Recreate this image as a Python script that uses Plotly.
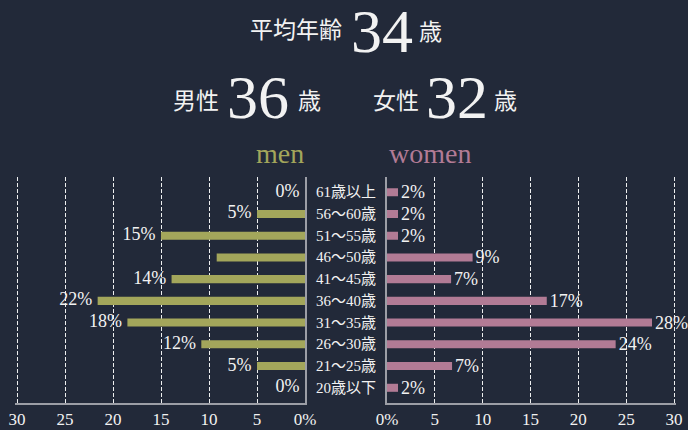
import plotly.graph_objects as go

# ---------------- data ----------------
categories = ["61歳以上", "56〜60歳", "51〜55歳", "46〜50歳", "41〜45歳",
              "36〜40歳", "31〜35歳", "26〜30歳", "21〜25歳", "20歳以下"]
men_values = [0, 5, 15, 9.2, 13.9, 21.6, 18.5, 10.8, 5, 0]
men_labels = ["0%", "5%", "15%", "", "14%", "22%", "18%", "12%", "5%", "0%"]
women_values = [1.15, 1.15, 1.15, 8.95, 6.7, 16.7, 27.7, 23.9, 6.8, 1.15]
women_labels = ["2%", "2%", "2%", "9%", "7%", "17%", "28%", "24%", "7%", "2%"]

men_tickvals = [30, 25, 20, 15, 10, 5, 0]
men_ticktext = ["30", "25", "20", "15", "10", "5", "0%"]
women_tickvals = [0, 5, 10, 15, 20, 25, 30]
women_ticktext = ["0%", "5", "10", "15", "20", "25", "30"]

avg_label, avg_age = "平均年齢", "34"
men_title, men_age = "男性", "36"
women_title, women_age = "女性", "32"
age_unit = "歳"
men_name, women_name = "men", "women"

# ---------------- style ----------------
W, H = 688, 430
BG = "#222939"
MEN_C = "#a3a65b"
WOMEN_C = "#b27b95"
AXIS_C = "#9c9ea6"
TXT = "#f2f2f2"
SERIF = "Liberation Serif, Noto Sans CJK JP, serif"


def px(x):
    return x / W


def py(y):
    return 1 - y / H


fig = go.Figure()
fig.add_trace(go.Bar(
    y=categories, x=men_values, orientation="h",
    xaxis="x", yaxis="y", marker=dict(color=MEN_C, line=dict(width=0)),
    width=0.37, showlegend=False, hoverinfo="skip",
))
fig.add_trace(go.Scatter(
    y=categories, x=men_values, mode="markers+text", text=men_labels,
    textposition="middle left", xaxis="x", yaxis="y",
    marker=dict(size=7, color="rgba(0,0,0,0)"),
    textfont=dict(family=SERIF, size=18, color=TXT),
    cliponaxis=False, showlegend=False, hoverinfo="skip",
))
fig.add_trace(go.Bar(
    y=categories, x=women_values, orientation="h",
    xaxis="x2", yaxis="y2", marker=dict(color=WOMEN_C, line=dict(width=0)),
    width=0.37, text=women_labels, textposition="outside",
    textfont=dict(family=SERIF, size=18, color=TXT),
    constraintext="none", cliponaxis=False, showlegend=False, hoverinfo="skip",
))

xcommon = dict(
    showgrid=True, gridcolor="rgba(255,255,255,0.92)", griddash="4px,2px", gridwidth=1,
    zeroline=False, showline=True, linecolor=AXIS_C, linewidth=2,
    ticks="", tickfont=dict(family=SERIF, size=17, color=TXT),
    fixedrange=True, automargin=False,
)
ycommon = dict(
    type="category", categoryorder="array", categoryarray=categories[::-1],
    range=[-0.7, len(categories) - 0.3], showticklabels=False, ticks="",
    showgrid=False, zeroline=False, showline=True, linecolor=AXIS_C, linewidth=2,
    domain=[py(403), py(177)], fixedrange=True, automargin=False,
)

fig.update_layout(
    width=W, height=H,
    paper_bgcolor=BG, plot_bgcolor=BG,
    margin=dict(l=0, r=0, t=0, b=0, pad=0, autoexpand=False),
    barmode="overlay",
    xaxis=dict(domain=[px(14.6), px(305)], range=[30.25, 0],
               tickvals=men_tickvals, ticktext=men_ticktext, anchor="y", **xcommon),
    xaxis2=dict(domain=[px(387), px(676.4)], range=[0, 30.25],
                tickvals=women_tickvals, ticktext=women_ticktext, anchor="y2", **xcommon),
    yaxis=dict(anchor="x", side="right", **ycommon),
    yaxis2=dict(anchor="x2", side="left", matches="y", **ycommon),
)

ann = []
for c in categories:
    ann.append(dict(x=px(346), xref="paper", y=c, yref="y", text=c, showarrow=False,
                    xanchor="center", yanchor="middle",
                    font=dict(family=SERIF, size=15, color=TXT)))


def txt(x, y, s, size, color=TXT):
    ann.append(dict(x=px(x), y=py(y), xref="paper", yref="paper", text=s,
                    showarrow=False, xanchor="center", yanchor="middle",
                    font=dict(family=SERIF, size=size, color=color)))


txt(296, 31, avg_label, 23)
txt(382, 31, avg_age, 62)
txt(430, 32, age_unit, 23)

txt(196, 101, men_title, 23)
txt(258, 97, men_age, 62)
txt(309, 101, age_unit, 23)

txt(396, 101, women_title, 23)
txt(457, 97, women_age, 62)
txt(505, 101, age_unit, 23)

txt(280, 154, men_name, 28, MEN_C)
txt(430, 154, women_name, 28, WOMEN_C)

fig.update_layout(annotations=ann)

fig.write_html(
    "out.html",
    config={"displayModeBar": False},
    post_script="document.body.style.margin='0';document.body.style.background='%s';" % BG,
)
